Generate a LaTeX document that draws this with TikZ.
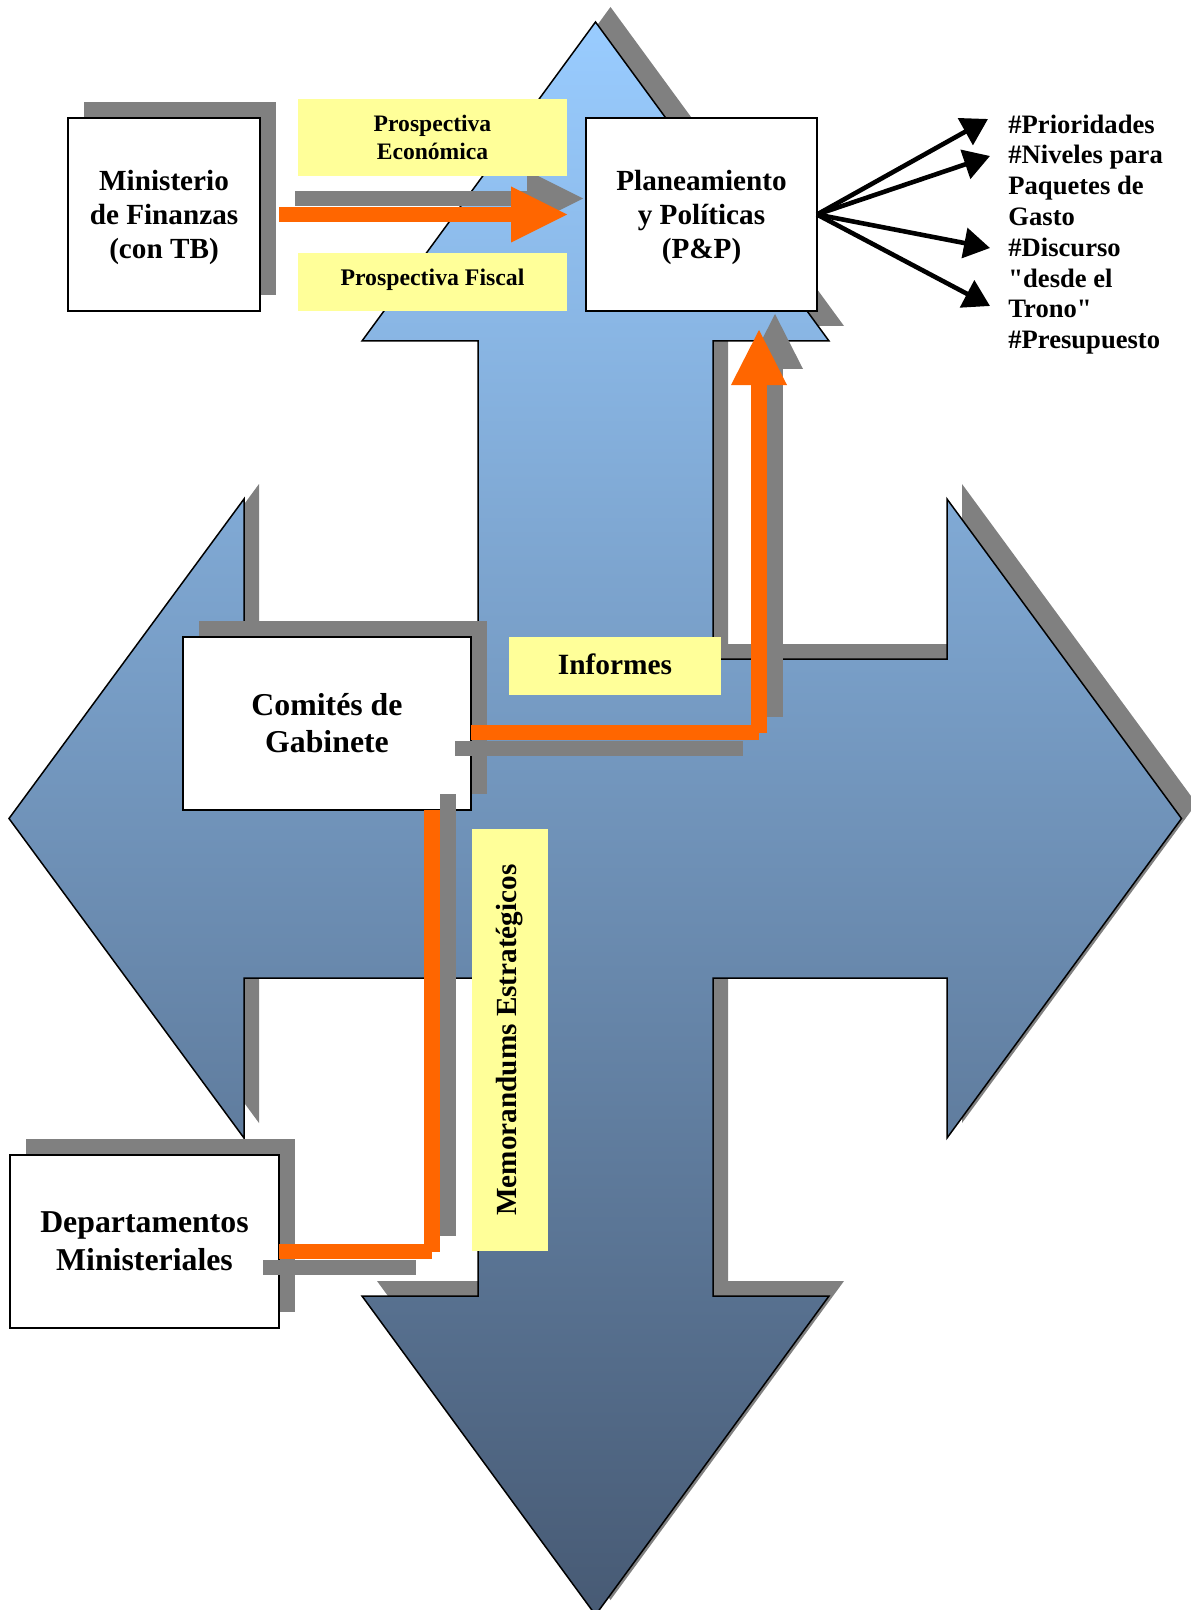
\documentclass[tikz,border=0pt]{standalone}
\usepackage{fontspec}
\setmainfont{Liberation Serif}
\newfontfamily\listfont{Liberation Serif}
\usetikzlibrary{shadows,calc,arrows.meta}
\definecolor{shgray}{RGB}{128,128,128}
\definecolor{orng}{RGB}{255,102,0}
\definecolor{yel}{RGB}{255,255,153}
\definecolor{btop}{RGB}{153,204,255}
\definecolor{bmid}{RGB}{120,160,200}
\definecolor{bbot}{RGB}{71,90,116}
\begin{document}
\begin{tikzpicture}[x=0.5pt,y=-0.5pt,
  mainbox/.style={draw=black, line width=0.85pt, fill=white, align=center, inner sep=0pt, outer sep=0pt},
  boxshadow/.style={drop shadow={shadow xshift=8pt,shadow yshift=8pt,fill=shgray,opacity=1}},
  yelbox/.style={fill=yel, draw=none, align=center, inner sep=0pt, outer sep=0pt},
  flow/.style={line width=7.75pt, line cap=butt, draw=orng},
  flowshadow/.style={line width=7.75pt, line cap=butt, draw=shgray},
  fan/.style={draw=black, line width=2.3pt, -{Triangle[length=13pt,width=15pt]}},
]
\useasboundingbox (0,0) rectangle (1190,1610);
% shadow of the four-way arrow
\fill[shgray, shift={(15,-15)}] (595.5,22) -- (829,341) -- (713,341) -- (713,659) -- (947,659) -- (947,499) -- (1181.5,818.5) -- (947,1138) -- (947,978) -- (713,978) -- (713,1296) -- (829,1296) -- (595.5,1615) -- (362,1296) -- (478,1296) -- (478,978) -- (244,978) -- (244,1138) -- (9,818.5) -- (244,499) -- (244,659) -- (478,659) -- (478,341) -- (362,341) -- cycle;
% four-way arrow
\shadedraw[top color=btop, middle color=bmid, bottom color=bbot, draw=black, line width=0.75pt, line join=miter] (595.5,22) -- (829,341) -- (713,341) -- (713,659) -- (947,659) -- (947,499) -- (1181.5,818.5) -- (947,1138) -- (947,978) -- (713,978) -- (713,1296) -- (829,1296) -- (595.5,1615) -- (362,1296) -- (478,1296) -- (478,978) -- (244,978) -- (244,1138) -- (9,818.5) -- (244,499) -- (244,659) -- (478,659) -- (478,341) -- (362,341) -- cycle;

% main boxes
\node[mainbox, boxshadow, minimum width=96pt, minimum height=96.5pt, font=\bfseries\fontsize{14.6}{17}\selectfont] (mf) at (164,214.5) {\rule{0pt}{13pt}Ministerio\\de Finanzas\\(con TB)};
\node[mainbox, minimum width=115.5pt, minimum height=96.5pt, font=\bfseries\fontsize{14.6}{17}\selectfont] (pp) at (701.5,214.5) {\rule{0pt}{13pt}Planeamiento\\y Políticas\\(P\&P)};
\node[mainbox, boxshadow, minimum width=144pt, minimum height=86.5pt, font=\bfseries\fontsize{15.9}{18.5}\selectfont] (cg) at (327,723.5) {Comités de\\Gabinete};
\node[mainbox, boxshadow, minimum width=134.5pt, minimum height=86.5pt, font=\bfseries\fontsize{15.9}{19}\selectfont] (dm) at (144.5,1241.5) {Departamentos\\Ministeriales};

% big arrow Ministerio -> P&P
\coordinate (a0) at ($(mf.east)+(19,0)$);
\coordinate (a1) at ($(pp.west)+(-19,0)$);
\draw[flowshadow] ($(a0)+(16,-16)$) -- ($(a1)+(-40,-16)$);
\fill[shgray] ($(a1)+(-40,-44)$) -- ($(a1)+(16,-16)$) -- ($(a1)+(-40,12)$) -- cycle;
\draw[flow] (a0) -- ($(a1)+(-56,0)$);
\fill[orng] ($(a1)+(-56,-28)$) -- (a1) -- ($(a1)+(-56,28)$) -- cycle;

% Comites -> P&P
\coordinate (h1) at ($(cg.east)+(0,9)$);
\coordinate (k1) at (759,732.5);
\coordinate (t1) at ($(pp.south)+(57.5,19)$);
\draw[flowshadow] ($(h1)+(-16,16)$) -- ($(k1)+(-16,16)$);
\draw[flowshadow] ($(k1)+(16,-16)$) -- ($(t1)+(16,39)$);
\fill[shgray] ($(t1)+(-12,39)$) -- ($(t1)+(16,-16)$) -- ($(t1)+(44,39)$) -- cycle;
\draw[flow] (h1) -- (k1);
\draw[flow] (k1) -- ($(t1)+(0,55)$);
\fill[orng] ($(t1)+(-28,55)$) -- (t1) -- ($(t1)+(28,55)$) -- cycle;

% Departamentos -> Comites
\coordinate (h2) at ($(dm.east)+(0,10)$);
\coordinate (k2) at (432,1251.5);
\coordinate (e2) at ($(cg.south)+(105,0)$);
\draw[flowshadow] ($(h2)+(-16,16)$) -- ($(k2)+(-16,16)$);
\draw[flowshadow] ($(k2)+(16,-16)$) -- ($(e2)+(16,-16)$);
\draw[flow] (h2) -- (k2);
\draw[flow] (k2) -- (e2);

% yellow labels
\node[yelbox, minimum width=134.5pt, minimum height=38.5pt, font=\bfseries\fontsize{11.8}{13.9}\selectfont] (pe) at (432.5,137.5) {Prospectiva\\Económica};
\node[yelbox, minimum width=134.5pt, minimum height=29pt, font=\bfseries\fontsize{11.9}{14}\selectfont] (pf) at (432.5,282) {Prospectiva Fiscal\rule[-4.6pt]{0pt}{0pt}};
\node[yelbox, minimum width=106pt, minimum height=29pt, font=\bfseries\fontsize{14.7}{17}\selectfont] (inf) at (615,666) {Informes\rule[-2pt]{0pt}{0pt}};
\node[yelbox, rotate=90, minimum width=211pt, minimum height=38pt, font=\bfseries\fontsize{14.6}{17}\selectfont] (me) at (510,1040) {Memorandums Estratégicos};

% outputs list
\node[anchor=west, align=left, inner sep=0pt, font=\listfont\bfseries\fontsize{13.3}{15.4}\selectfont] (lst) at (1008,234.5) {\#Prioridades\\\#Niveles para\\Paquetes de\\Gasto\\\#Discurso\\"desde el\\Trono"\\\#Presupuesto};
\coordinate (f1) at (988,119);
\coordinate (f2) at (990,156);
\coordinate (f3) at (990,248);
\coordinate (f4) at (990,306);
\draw[fan] (pp.east) -- (f1);
\draw[fan] (pp.east) -- (f2);
\draw[fan] (pp.east) -- (f3);
\draw[fan] (pp.east) -- (f4);
\end{tikzpicture}
\end{document}
